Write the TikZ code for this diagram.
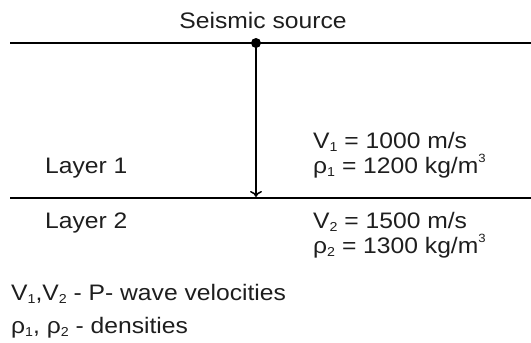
\documentclass[tikz,border=0pt]{standalone}
\usepackage{fontspec}
\setmainfont{Liberation Sans}[FakeStretch=1.1]
\usetikzlibrary{arrows.meta}
\newcommand{\lsub}[1]{\raisebox{-0.3ex}{\fontsize{13}{13}\selectfont #1}}
\newcommand{\lsup}[1]{\raisebox{0.85ex}{\fontsize{12}{12}\selectfont #1}}
\definecolor{txt}{HTML}{1E1E1E}
\tikzset{
  lbl/.style={inner sep=0pt, anchor=base west, text=txt, font=\fontsize{22.5}{24}\selectfont},
  layerline/.style={line width=1.7pt, black},
}
\begin{document}
\begin{tikzpicture}[x=1bp,y=-1bp]
\useasboundingbox (0,0) rectangle (531,342);
% interface lines
\coordinate (tl) at (10,43);
\coordinate (tr) at (531,43);
\coordinate (bl) at (10,198);
\coordinate (br) at (531,198);
\draw[layerline] (tl) -- (tr);
\draw[layerline] (bl) -- (br);
% source and ray
\node[circle, fill=black, inner sep=0pt, minimum size=10bp] (src) at (256,43) {};
\coordinate (hit) at (256,197);
\draw[line width=1.5pt, -{To[length=6bp,width=12bp,line width=1.5pt]}] (src.center) -- (hit);
% labels
\node[lbl, anchor=base] (title) at (263,28) {Seismic source};
\node[lbl] (l1) at (45,173) {Layer 1};
\node[lbl] (l2) at (45,228) {Layer 2};
\node[lbl] (v1) at (313,148) {V\lsub{1} = 1000 m/s};
\node[lbl] (r1) at (313,173) {ρ\lsub{1} = 1200 kg/m\lsup{3}};
\node[lbl] (v2) at (313,228) {V\lsub{2} = 1500 m/s};
\node[lbl] (r2) at (313,253) {ρ\lsub{2} = 1300 kg/m\lsup{3}};
\node[lbl] (leg1) at (11,300) {V\lsub{1},V\lsub{2} - P- wave velocities};
\node[lbl] (leg2) at (11,333) {ρ\lsub{1}, ρ\lsub{2} - densities};
\end{tikzpicture}
\end{document}
